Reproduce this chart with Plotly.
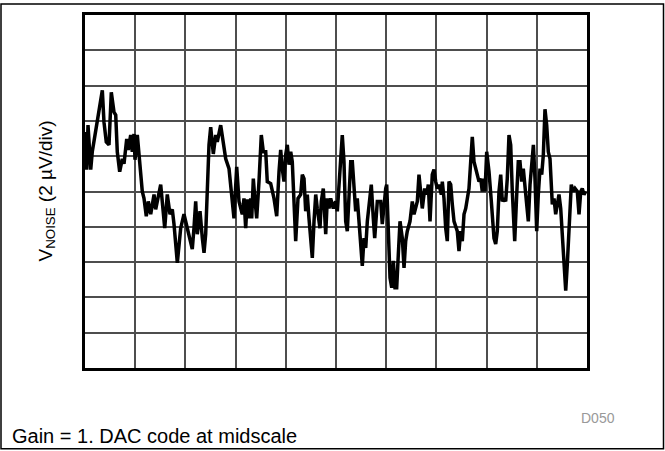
import plotly.graph_objects as go

# Time axis in divisions (0-10), noise in µV (2 µV/div)
time_div = [0.014, 0.034, 0.060, 0.114, 0.145, 0.233, 0.279, 0.345, 0.378, 0.424, 0.478, 0.498, 0.524, 0.578, 0.612, 0.643, 0.691, 0.743, 0.777, 0.831, 0.863, 0.910, 0.942, 0.976, 0.996,
            1.042, 1.076, 1.141, 1.175, 1.221, 1.261, 1.309, 1.375, 1.408, 1.508, 1.554, 1.588, 1.639, 1.693, 1.739, 1.773, 1.839, 1.906, 1.972,
            2.006, 2.072, 2.137, 2.171, 2.205, 2.237, 2.291, 2.337, 2.371, 2.404, 2.436, 2.470, 2.504, 2.556, 2.604, 2.635, 2.703, 2.755, 2.803, 2.869, 2.934, 2.968,
            3.022, 3.068, 3.133, 3.167, 3.201, 3.233, 3.267, 3.301, 3.321, 3.353, 3.380, 3.420, 3.466, 3.512, 3.552, 3.600, 3.631, 3.699, 3.765, 3.819, 3.865, 3.898, 3.930, 3.964,
            3.998, 4.030, 4.064, 4.098, 4.129, 4.163, 4.197, 4.243, 4.297, 4.329, 4.363, 4.396, 4.428, 4.462, 4.528, 4.562, 4.596, 4.627, 4.681, 4.707, 4.747, 4.795, 4.827, 4.861, 4.894, 4.946, 4.994,
            5.026, 5.060, 5.094, 5.125, 5.159, 5.193, 5.225, 5.259, 5.293, 5.325, 5.359, 5.392, 5.424, 5.458, 5.492, 5.524, 5.558, 5.592, 5.624, 5.657, 5.703, 5.743, 5.771, 5.823, 5.890, 5.922, 5.956,
            5.990, 6.010, 6.036, 6.076, 6.110, 6.142, 6.175, 6.209, 6.235, 6.275, 6.321, 6.355, 6.388, 6.420, 6.474, 6.520, 6.554, 6.620, 6.653, 6.687, 6.719, 6.767, 6.807, 6.839, 6.873, 6.918, 6.952, 6.986,
            7.018, 7.052, 7.098, 7.118, 7.151, 7.185, 7.217, 7.251, 7.285, 7.317, 7.351, 7.416, 7.450, 7.484, 7.516, 7.550, 7.584, 7.649, 7.683, 7.715, 7.749, 7.803, 7.849, 7.883, 7.914, 7.948,
            7.968, 8.002, 8.048, 8.094, 8.147, 8.181, 8.213, 8.247, 8.281, 8.313, 8.347, 8.380, 8.412, 8.446, 8.480, 8.512, 8.560, 8.600, 8.631, 8.665, 8.699, 8.731, 8.765, 8.799, 8.831, 8.865, 8.898, 8.932, 8.964, 8.998,
            9.030, 9.064, 9.098, 9.130, 9.163, 9.197, 9.229, 9.263, 9.309, 9.343, 9.376, 9.408, 9.442, 9.476, 9.508, 9.542, 9.576, 9.608, 9.641, 9.687, 9.727, 9.761, 9.807, 9.841, 9.875, 9.906, 9.940, 9.975]

noise_uv = [3.37, 1.24, 3.76, 1.24, 2.25, 3.76, 4.33, 5.73, 3.93, 2.81, 2.64, 3.93, 5.62, 4.49, 4.33, 2.25, 1.12, 1.85, 1.57, 2.98, 2.36, 3.20, 2.25, 3.26, 1.80,
            3.20, 2.13, 0.00, -0.39, -1.40, -0.56, -1.29, -0.17, -1.01, 0.39, -0.96, -2.08, -0.17, -1.29, -1.01, -1.85, -4.04, -2.08, -1.29,
            -1.69, -2.64, -3.26, -2.08, -0.56, -2.42, -1.12, -2.64, -3.48, -2.42, 0.73, 2.64, 3.65, 2.13, 3.20, 2.81, 3.76, 2.64, 1.85, 1.29, -0.39, -1.52,
            1.40, -0.56, -1.29, -0.39, -2.08, -0.45, -1.52, -0.39, -1.52, 0.73, -0.28, -1.52, 0.56, 3.20, 2.25, 2.25, 0.56, 0.45, -0.39, -1.40, 1.12, 2.36, 1.29, 0.56,
            2.08, 2.64, 1.52, 2.25, 1.69, -0.17, -2.81, -0.39, -0.17, 0.96, 0.73, -1.12, -0.17, -1.52, -3.76, -1.69, -0.17, -0.96, -2.08, -0.56, 0.17, -2.42, -0.39, -0.96, -0.39, -0.96, -0.56,
            -1.12, 0.17, 2.08, 3.20, 1.69, -1.69, -2.25, 0.17, 1.69, 1.69, -0.17, -1.12, -0.39, -1.52, -2.64, -4.21, -2.64, -3.20, -1.69, -0.73, 0.39, -1.52, -2.64, -0.56, -0.56, -1.85, -0.56,
            0.17, 0.39, -1.29, -4.89, -5.45, -3.93, -5.45, -5.45, -3.93, -1.69, -2.64, -4.33, -2.81, -2.25, -1.69, -0.56, -1.29, -0.56, 0.96, 0.17, -0.96, 0.17, -0.17, 0.39, -1.69, 0.96, 1.24, 0.56,
            0.17, 0.39, -0.17, 0.56, -0.39, -2.08, -2.81, 0.56, 0.39, -0.73, -1.69, -2.25, -3.37, -2.25, -2.81, -1.29, -0.96, 0.17, 1.69, 3.09, 1.69, 1.12, 0.56, 0.73, 0.00, 0.73,
            0.00, 2.25, 1.12, -0.56, -2.64, -2.98, -2.25, 0.00, 0.96, -0.56, -0.39, -0.56, 0.73, 3.20, 2.64, 0.00, -2.81, -0.17, 1.69, 1.69, 0.56, 1.29, 0.39, -0.56, -1.69, 0.39, 1.85, 2.64, 0.73, -2.25,
            -0.17, 1.29, 0.96, 2.08, 4.66, 3.76, 2.25, 1.85, -0.73, -0.39, -1.29, -0.56, -0.17, -0.96, -2.25, -4.10, -5.62, -4.10, -1.85, 0.39, 0.00, 0.17, 0.00, -1.29, 0.00, 0.17, -0.17, 0.00]

x_range = [0, 10]
y_range = [-10, 10]

fig = go.Figure()
fig.add_trace(go.Scatter(x=time_div, y=noise_uv, mode="lines",
                         line=dict(color="black", width=3.5), hoverinfo="skip"))

axis_common = dict(showticklabels=False, ticks="", zeroline=False,
                   showgrid=True, gridcolor="#4d4d4d", gridwidth=1.5,
                   showline=True, linecolor="black", linewidth=3, mirror=True)
fig.update_xaxes(range=x_range, dtick=1, **axis_common)
fig.update_yaxes(range=y_range, dtick=2, **axis_common)

W, H = 665, 451
L, R, T, B = 85, 78, 12, 83
pw, ph = W - L - R, H - T - B

def px_x(p):
    return (p - L) / pw

def px_y(p):
    return (H - B - p) / ph

fig.update_layout(
    width=W, height=H, autosize=False,
    margin=dict(l=L, r=R, t=T, b=B),
    paper_bgcolor="white", plot_bgcolor="white",
    showlegend=False,
    font=dict(family="Liberation Sans, Arial, sans-serif", color="black"),
    shapes=[dict(type="rect", xref="paper", yref="paper",
                 x0=px_x(1), x1=px_x(663.5), y0=px_y(449.5), y1=px_y(1),
                 line=dict(color="black", width=1.5), fillcolor="rgba(0,0,0,0)")],
    annotations=[
        dict(text="V<sub>NOISE</sub> (2 µV/div)", xref="paper", yref="paper",
             x=px_x(46), y=px_y(190), textangle=-90, showarrow=False,
             font=dict(size=19), xanchor="center", yanchor="middle"),
        dict(text="D050", xref="paper", yref="paper",
             x=px_x(598), y=px_y(418), showarrow=False,
             font=dict(size=14, color="#999999"), xanchor="center", yanchor="middle"),
        dict(text="Gain = 1. DAC code at midscale", xref="paper", yref="paper",
             x=px_x(10), y=px_y(437), showarrow=False,
             font=dict(size=20), xanchor="left", yanchor="middle"),
    ],
)

fig.write_html("out.html", config={"displayModeBar": False},
               post_script="document.body.style.margin='0';document.body.style.overflow='hidden';")
